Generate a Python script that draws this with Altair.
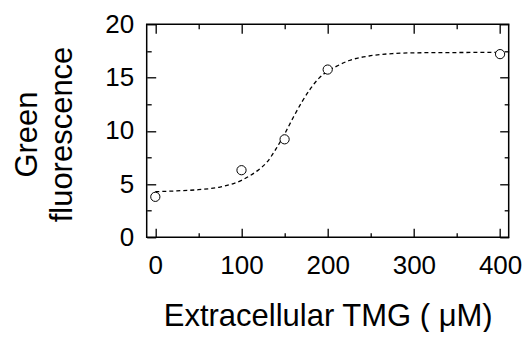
import altair as alt
import pandas as pd

# measured points
tmg = [0, 100, 150, 200, 400]
green = [3.8, 6.3, 9.2, 15.75, 17.2]

# dashed fitted curve
curve_x = [0, 25, 50, 75, 100, 110, 120, 130, 140, 150, 160, 170, 180, 190,
           200, 210, 225, 250, 275, 300, 350, 400]
curve_y = [4.28, 4.36, 4.47, 4.72, 5.35, 5.8, 6.35, 7.1, 8.3, 9.7, 11.25, 12.7,
           13.95, 14.95, 15.6, 16.05, 16.6, 17.05, 17.25, 17.32, 17.35, 17.36]

x_major = [0, 100, 200, 300, 400]
x_minor = [50, 150, 250, 350]
y_major = [0, 5, 10, 15, 20]
y_minor = [2.5, 7.5, 12.5, 17.5]

pts = pd.DataFrame({"x": tmg, "y": green})
crv = pd.DataFrame({"x": curve_x, "y": curve_y})

FONT = "Liberation Sans"
xs = alt.Scale(domain=[-10, 410], nice=False, zero=False)
ys = alt.Scale(domain=[0, 20], nice=False, zero=False)


def tick_axis(orient, values, size):
    return alt.Axis(orient=orient, values=values, labels=False, domain=False,
                    grid=False, title=None, ticks=True, tickSize=size,
                    offset=-size, tickColor="black", tickWidth=1.3)


x_lab = alt.Axis(orient="bottom", values=x_major, ticks=False, tickSize=0,
                 domain=False, grid=False, labelFont=FONT, labelFontSize=26,
                 labelColor="black", labelPadding=15,
                 title="Extracellular TMG ( μM)", titleFont=FONT,
                 titleFontSize=31, titleFontWeight="normal", titleColor="black",
                 titleX=181, titleY=88.7, titleAlign="center",
                 titleBaseline="alphabetic")
y_lab = alt.Axis(orient="left", values=y_major, ticks=False, tickSize=0,
                 domain=False, grid=False, labelFont=FONT, labelFontSize=26,
                 labelColor="black", labelPadding=13,
                 title=["Green", "fluorescence"], titleFont=FONT,
                 titleFontSize=31, titleFontWeight="normal", titleColor="black",
                 titleAngle=-90, titleX=-109.7, titleY=109.7, titleAlign="center",
                 titleBaseline="alphabetic", titleLineHeight=35)

curve = alt.Chart(crv).mark_line(
    color="black", strokeDash=[4, 3], strokeWidth=1.3, interpolate="monotone"
).encode(
    x=alt.X("x:Q", scale=xs, axis=tick_axis("bottom", x_major, 9)),
    y=alt.Y("y:Q", scale=ys, axis=tick_axis("left", y_major, 9)),
)

points = alt.Chart(pts).mark_point(
    shape="circle", filled=True, fill="white", stroke="black", strokeWidth=1,
    size=85, opacity=1
).encode(
    x=alt.X("x:Q", scale=xs, axis=x_lab),
    y=alt.Y("y:Q", scale=ys, axis=y_lab),
)

minor1 = alt.Chart(pts).mark_point(opacity=0).encode(
    x=alt.X("x:Q", scale=xs, axis=tick_axis("bottom", x_minor, 4.5)),
    y=alt.Y("y:Q", scale=ys, axis=tick_axis("left", y_minor, 4.5)),
)
major2 = alt.Chart(pts).mark_point(opacity=0).encode(
    x=alt.X("x:Q", scale=xs, axis=tick_axis("top", x_major, 9)),
    y=alt.Y("y:Q", scale=ys, axis=tick_axis("right", y_major, 9)),
)
minor2 = alt.Chart(pts).mark_point(opacity=0).encode(
    x=alt.X("x:Q", scale=xs, axis=tick_axis("top", x_minor, 4.5)),
    y=alt.Y("y:Q", scale=ys, axis=tick_axis("right", y_minor, 4.5)),
)

chart = alt.layer(curve, minor1, major2, minor2, points).resolve_axis(
    x="independent", y="independent"
).properties(
    width=362, height=213,
    autosize=alt.AutoSizeParams(type="none"),
    padding={"left": 138.7, "top": 16.3, "right": 13, "bottom": 95},
    background="white",
).configure_view(stroke="black", strokeWidth=1.5)

chart.save("out.html", embed_options={"renderer": "svg", "actions": False})
